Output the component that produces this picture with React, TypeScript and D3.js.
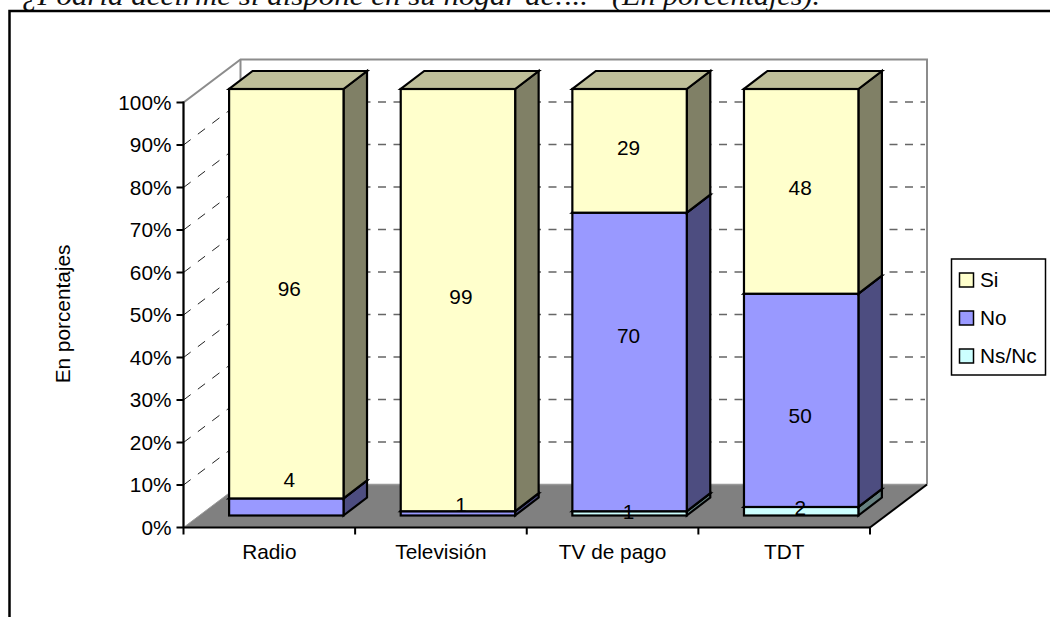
import React from "react";
import * as d3 from "d3";

const categories = ["Radio", "Televisión", "TV de pago", "TDT"];
const seriesNames = ["Ns/Nc", "No", "Si"];
const nsnc = [0, 0, 1, 2];
const no = [4, 1, 70, 50];
const si = [96, 99, 29, 48];
const yTicks = [0, 10, 20, 30, 40, 50, 60, 70, 80, 90, 100];

// styles and layout
const faces: Record<string, { front: string; top: string; side: string }> = {
  Si: { front: "#FFFFCC", top: "#BFBF99", side: "#808066" },
  No: { front: "#9999FF", top: "#7373BF", side: "#4D4D80" },
  "Ns/Nc": { front: "#CCFFFF", top: "#99BFBF", side: "#668080" },
};
const font = "'Liberation Sans', Arial, sans-serif";
const fs = 20.8;
const wall = { dx: 57, dy: -43 };
const barDepth = { dx: 23.5, dy: -18 };
const barShift = { dx: 17 };
// data-label displacement from the segment centre, per series then category (Excel's 3-D placement)
const labelShift: Record<string, number[]> = {
  Si: [-5, -3, -3, -3],
  No: [-27, -8, -26, 16],
  "Ns/Nc": [0, 0, -1, -3],
};
const labelShiftX = [3, 3, -1, -1];

export default function App() {
  const rows = categories.map((c, i) => ({
    c,
    "Ns/Nc": nsnc[i],
    No: no[i],
    Si: si[i],
  }));
  const stacked = d3.stack<any>().keys(seriesNames)(rows);

  const y = d3.scaleLinear().domain([0, 100]).range([527.5, 102.5]);
  const barY = d3.scaleLinear().domain([0, 100]).range([515.5, 89]);
  const x = d3.scaleBand<string>().domain(categories).range([183.5, 870]).paddingInner(0).paddingOuter(0);
  const bw = x.bandwidth();
  const barW = (bw * 2) / 3;
  const barX = (c: string) => x(c)! + (bw - barW) / 2 + barShift.dx;

  const x0 = x.range()[0];
  const x1 = x.range()[1];
  const y0 = y(0);
  const pts = (a: [number, number][]) => a.map((p) => p.join(",")).join(" ");

  return (
    <svg
      width={1050}
      height={617}
      style={{ position: "fixed", left: 0, top: 0, display: "block", background: "#fff" }}
    >
      <text
        x={22}
        y={5}
        fontFamily="'Liberation Serif', serif"
        fontStyle="italic"
        fontSize={27}
        fill="#111"
        textLength={566}
        lengthAdjust="spacingAndGlyphs"
      >
        ¿Podría decirme si dispone en su hogar de:...
      </text>
      <text
        x={612}
        y={5}
        fontFamily="'Liberation Serif', serif"
        fontStyle="italic"
        fontSize={27}
        fill="#111"
        textLength={208}
        lengthAdjust="spacingAndGlyphs"
      >
        (En porcentajes).
      </text>

      <path d="M9.5,617V11H1050" fill="none" stroke="#000" strokeWidth={2.5} />

      {/* floor */}
      <polygon
        points={pts([
          [x0, y0],
          [x1, y0],
          [x1 + wall.dx, y0 + wall.dy],
          [x0 + wall.dx, y0 + wall.dy],
        ])}
        fill="#808080"
      />
      {/* walls */}
      <path
        d={`M${x0},${y0}L${x0},${y(100)}L${x0 + wall.dx},${y(100) + wall.dy}H${x1 + wall.dx}V${y0 + wall.dy}`}
        fill="none"
        stroke="#8c8c8c"
        strokeWidth={2}
      />
      <path
        d={`M${x0 + wall.dx},${y(100) + wall.dy}V${y0 + wall.dy}`}
        fill="none"
        stroke="#8c8c8c"
        strokeWidth={2}
      />
      {/* gridlines */}
      {yTicks
        .filter((t) => t > 0 && t < 100)
        .map((t) => (
          <g key={t}>
            <line
              x1={x0}
              y1={y(t)}
              x2={x0 + wall.dx}
              y2={y(t) + wall.dy}
              stroke="#222"
              strokeWidth={1}
              strokeDasharray="9 9"
            />
            <line
              x1={x0 + wall.dx}
              y1={y(t) + wall.dy}
              x2={x1 + wall.dx - 2}
              y2={y(t) + wall.dy}
              stroke="#666"
              strokeWidth={1.3}
              strokeDasharray="8 7.5"
              strokeDashoffset={2}
            />
          </g>
        ))}
      <line x1={x0 + wall.dx} y1={y0 + wall.dy} x2={x1 + wall.dx} y2={y0 + wall.dy} stroke="#999" strokeWidth={1.5} />
      <line x1={x0} y1={y0} x2={x0 + wall.dx} y2={y0 + wall.dy} stroke="#999" strokeWidth={1} />

      {/* bars */}
      {categories.map((c, i) => {
        const L = barX(c);
        const R = L + barW;
        const { dx, dy } = barDepth;
        return (
          <g key={c} stroke="#000" strokeWidth={2.2} strokeLinejoin="miter">
            {stacked.map((s) => {
              const [a, b] = s[i];
              if (b - a <= 0) return null;
              const f = faces[s.key];
              return (
                <g key={s.key}>
                  <polygon
                    points={pts([
                      [R, barY(a)],
                      [R + dx, barY(a) + dy],
                      [R + dx, barY(b) + dy],
                      [R, barY(b)],
                    ])}
                    fill={f.side}
                  />
                  <polygon
                    points={pts([
                      [L, barY(b)],
                      [R, barY(b)],
                      [R + dx, barY(b) + dy],
                      [L + dx, barY(b) + dy],
                    ])}
                    fill={f.top}
                  />
                  <rect x={L} y={barY(b)} width={barW} height={barY(a) - barY(b)} fill={f.front} />
                </g>
              );
            })}
          </g>
        );
      })}

      {/* axes */}
      <g stroke="#000" strokeWidth={2}>
        <line x1={x0} y1={y(100) - 1} x2={x0} y2={y0 + 7} />
        <line x1={x0} y1={y0} x2={x1} y2={y0} />
        <line x1={x1} y1={y0} x2={x1 + wall.dx} y2={y0 + wall.dy} />
        {yTicks.map((t) => (
          <line key={t} x1={x0 - 7} y1={y(t)} x2={x0} y2={y(t)} />
        ))}
        {categories.map((c) => (
          <line key={c} x1={x(c)! + bw} y1={y0} x2={x(c)! + bw} y2={y0 + 7} />
        ))}
      </g>
      <g fontFamily={font} fontSize={fs} fill="#000">
        {yTicks.map((t) => (
          <text key={t} x={x0 - 12} y={y(t) + 7} textAnchor="end">
            {t}%
          </text>
        ))}
        {categories.map((c) => (
          <text key={c} x={x(c)! + bw / 2} y={y0 + 31} textAnchor="middle">
            {c}
          </text>
        ))}
        <text transform="translate(70,314) rotate(-90)" textAnchor="middle">
          En porcentajes
        </text>

        {/* data labels */}
        {stacked.map((s) =>
          categories.map((c, i) => {
            const [a, b] = s[i];
            if (b - a <= 0) return null;
            return (
              <text
                key={s.key + c}
                x={barX(c) + barW / 2 + labelShiftX[i]}
                y={barY((a + b) / 2) + 7 + labelShift[s.key][i]}
                textAnchor="middle"
              >
                {b - a}
              </text>
            );
          })
        )}

        {/* legend */}
        <rect x={951.5} y={259} width={94} height={116} fill="#fff" stroke="#000" strokeWidth={1.5} />
        {[...seriesNames].reverse().map((n, i) => (
          <g key={n}>
            <rect
              x={959.5}
              y={273 + i * 38}
              width={14}
              height={14}
              fill={faces[n].front}
              stroke="#000"
              strokeWidth={1.5}
            />
            <text x={980} y={287 + i * 38}>
              {n}
            </text>
          </g>
        ))}
      </g>
    </svg>
  );
}
